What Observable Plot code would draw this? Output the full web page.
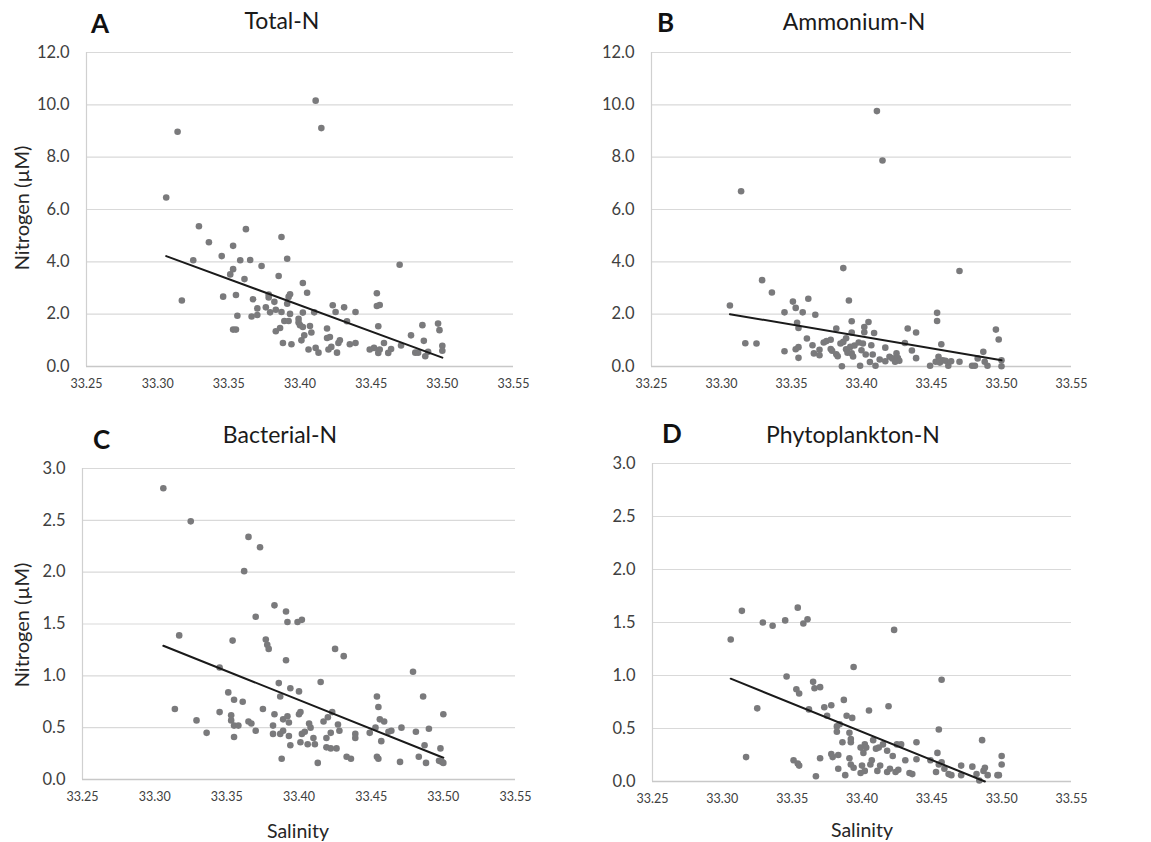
<!DOCTYPE html>
<html>
<head>
<meta charset="utf-8">
<script src="https://cdn.jsdelivr.net/npm/d3@7"></script>
<script src="https://cdn.jsdelivr.net/npm/@observablehq/plot@0.6"></script>
<style>
  html, body { margin: 0; padding: 0; background: #fff; }
  #root { position: relative; width: 1151px; height: 842px; overflow: hidden; background: #fff; font-family: Lato, "Open Sans", sans-serif; }
  .panel { position: absolute; }
  #overlay { position: absolute; left: 0; top: 0; pointer-events: none; }
</style>
</head>
<body>
<div id="root"></div>
<script>
// ---------------- data ----------------
const xTicks = [33.25, 33.30, 33.35, 33.40, 33.45, 33.50, 33.55];
const yTicksTop = [0, 2, 4, 6, 8, 10, 12];
const yTicksBottom = [0, 0.5, 1.0, 1.5, 2.0, 2.5, 3.0];
const panelLetters = ["A", "B", "C", "D"];
const panelTitles = ["Total-N", "Ammonium-N", "Bacterial-N", "Phytoplankton-N"];
const yAxisLabel = "Nitrogen (µM)";
const xAxisLabel = "Salinity";

const salinityA = [33.306,33.314,33.317,33.325,33.329,33.336,33.345,33.346,33.351,33.353,33.353,33.355,33.353,33.355,33.356,33.358,33.361,33.362,33.365,33.366,33.367,33.370,33.370,33.373,33.376,33.378,33.378,33.379,33.382,33.383,33.383,33.385,33.386,33.387,33.387,33.388,33.389,33.391,33.391,33.392,33.392,33.393,33.393,33.394,33.399,33.399,33.400,33.401,33.402,33.402,33.402,33.403,33.405,33.406,33.407,33.408,33.410,33.411,33.411,33.413,33.415,33.419,33.419,33.420,33.421,33.422,33.423,33.425,33.426,33.427,33.428,33.431,33.433,33.435,33.439,33.439,33.449,33.452,33.454,33.454,33.455,33.455,33.456,33.456,33.459,33.462,33.464,33.470,33.471,33.478,33.481,33.483,33.486,33.487,33.488,33.490,33.497,33.498,33.500,33.500];
const totalN = [6.46,8.97,2.52,4.06,5.36,4.75,4.22,2.67,3.52,3.72,4.61,2.73,1.41,1.41,1.94,4.06,3.34,5.25,4.07,1.91,2.57,2.22,1.97,3.84,2.26,2.64,2.75,2.07,2.47,1.35,2.17,3.46,1.47,2.08,4.95,0.90,1.74,4.12,2.40,1.74,2.66,2.01,2.76,0.85,1.82,1.68,1.58,1.00,1.51,3.19,2.06,1.19,2.82,0.65,1.55,1.30,2.07,10.16,0.71,0.53,9.11,1.45,1.09,0.65,1.13,0.75,2.34,2.08,0.53,0.90,1.00,2.26,1.73,0.85,0.90,2.08,0.65,0.71,2.80,2.31,1.54,0.52,0.65,2.35,0.90,0.52,0.67,3.89,0.80,1.19,0.53,0.53,1.58,0.98,0.39,0.56,1.64,1.39,0.79,0.60];

const salinityB = [33.306,33.314,33.317,33.325,33.329,33.336,33.345,33.345,33.351,33.353,33.353,33.354,33.355,33.355,33.355,33.358,33.361,33.362,33.365,33.366,33.367,33.370,33.370,33.373,33.375,33.378,33.378,33.379,33.382,33.382,33.383,33.385,33.386,33.387,33.387,33.389,33.389,33.390,33.391,33.392,33.393,33.393,33.393,33.394,33.395,33.398,33.399,33.400,33.401,33.402,33.402,33.403,33.405,33.406,33.407,33.408,33.409,33.410,33.413,33.417,33.417,33.420,33.422,33.424,33.425,33.426,33.427,33.431,33.433,33.436,33.439,33.439,33.449,33.453,33.454,33.454,33.455,33.456,33.457,33.458,33.460,33.462,33.464,33.470,33.470,33.479,33.481,33.483,33.487,33.488,33.490,33.496,33.498,33.500,33.500,33.411,33.415];
const ammoniumN = [2.33,6.70,0.89,0.88,3.30,2.83,2.07,0.58,2.48,0.66,2.24,1.67,1.47,0.74,0.33,2.07,1.07,2.59,0.81,0.50,1.98,0.64,0.43,0.92,0.97,1.02,0.67,0.60,1.45,0.47,0.39,0.88,0.01,3.76,0.94,0.66,1.08,0.53,2.52,0.75,1.73,1.30,0.50,0.38,0.80,0.92,0.03,0.62,0.88,1.31,1.51,0.46,1.70,0.17,0.81,0.46,1.28,0.03,0.27,0.72,0.20,0.37,0.31,0.18,0.50,0.32,0.22,0.90,1.45,0.61,1.30,0.32,0.03,0.18,2.05,1.74,0.37,0.15,0.85,0.24,0.22,0.03,0.20,3.65,0.18,0.03,0.03,0.31,0.56,0.18,0.03,1.41,1.03,0.24,0.01,9.76,7.87];

const salinityC = [33.306,33.314,33.317,33.325,33.329,33.336,33.345,33.345,33.351,33.353,33.353,33.354,33.355,33.355,33.355,33.358,33.361,33.362,33.365,33.365,33.367,33.370,33.370,33.373,33.375,33.377,33.378,33.379,33.382,33.382,33.383,33.383,33.386,33.387,33.387,33.388,33.389,33.389,33.391,33.391,33.392,33.392,33.393,33.393,33.394,33.394,33.399,33.400,33.400,33.401,33.401,33.402,33.402,33.404,33.406,33.407,33.408,33.410,33.411,33.413,33.415,33.417,33.419,33.419,33.420,33.422,33.422,33.423,33.425,33.426,33.427,33.428,33.431,33.433,33.436,33.439,33.439,33.449,33.453,33.454,33.455,33.454,33.455,33.456,33.457,33.459,33.462,33.464,33.471,33.470,33.479,33.481,33.483,33.486,33.487,33.488,33.490,33.497,33.498,33.499,33.500,33.500];
const bacterialN = [2.81,0.68,1.39,2.49,0.57,0.45,0.65,1.08,0.84,0.62,0.57,1.34,0.41,0.52,0.77,0.52,0.75,2.01,2.34,0.56,0.54,1.57,0.47,2.24,0.68,1.35,1.30,1.26,0.52,0.44,1.68,0.63,0.93,0.80,0.44,0.20,0.58,0.47,1.15,1.62,1.52,0.61,0.55,0.42,0.88,0.33,1.52,0.63,0.85,0.65,0.36,1.54,0.44,0.46,0.34,0.54,0.50,0.40,0.34,0.16,0.94,0.56,0.40,0.31,0.60,0.45,0.30,0.65,1.26,0.30,0.53,0.47,1.19,0.22,0.20,0.44,0.40,0.45,0.50,0.80,0.70,0.22,0.20,0.58,0.37,0.56,0.46,0.47,0.50,0.17,1.04,0.46,0.22,0.80,0.33,0.16,0.49,0.18,0.30,0.17,0.63,0.16];

const salinityD = [33.306,33.314,33.317,33.325,33.329,33.336,33.345,33.346,33.351,33.353,33.354,33.354,33.355,33.355,33.358,33.361,33.362,33.365,33.366,33.367,33.370,33.370,33.373,33.375,33.378,33.378,33.379,33.382,33.382,33.383,33.383,33.384,33.386,33.387,33.388,33.389,33.391,33.391,33.392,33.392,33.392,33.393,33.394,33.394,33.399,33.399,33.400,33.401,33.402,33.402,33.403,33.405,33.406,33.407,33.408,33.410,33.411,33.412,33.413,33.415,33.418,33.418,33.419,33.420,33.422,33.423,33.424,33.425,33.426,33.428,33.431,33.434,33.436,33.439,33.439,33.449,33.453,33.454,33.455,33.455,33.457,33.457,33.459,33.462,33.464,33.471,33.471,33.479,33.482,33.484,33.486,33.487,33.488,33.490,33.497,33.498,33.500,33.500];
const phytoplanktonN = [1.34,1.61,0.23,0.69,1.50,1.47,1.52,0.99,0.20,0.87,1.64,0.17,0.83,0.15,1.49,1.53,0.68,0.94,0.88,0.05,0.89,0.22,0.70,0.62,0.72,0.26,0.23,0.47,0.52,0.12,0.25,0.54,0.37,0.77,0.06,0.62,0.46,0.22,0.40,0.37,0.16,0.60,0.13,1.08,0.32,0.08,0.15,0.27,0.35,0.10,0.32,0.67,0.16,0.20,0.39,0.31,0.10,0.32,0.15,0.35,0.29,0.09,0.71,0.12,0.24,1.43,0.09,0.35,0.11,0.35,0.20,0.08,0.07,0.37,0.21,0.20,0.09,0.27,0.16,0.49,0.18,0.96,0.12,0.07,0.06,0.06,0.15,0.14,0.07,0.01,0.39,0.10,0.13,0.06,0.06,0.06,0.24,0.16];

// trend line end points (salinity, nitrogen)
const trendSalA = [33.306, 33.500], trendNA = [4.22, 0.34];
const trendSalB = [33.306, 33.500], trendNB = [2.00, 0.24];
const trendSalC = [33.306, 33.500], trendNC = [1.29, 0.21];
const trendSalD = [33.306, 33.488], trendND = [0.97, 0.00];

// ---------------- drawing ----------------
const root = document.getElementById("root");
const FONT = "Lato, 'Open Sans', sans-serif";

function panel(sal, nit, tSal, tN, yMax, yTicks, box) {
  const pts = sal.map((s, i) => ({s, n: nit[i]}));
  const trend = tSal.map((s, i) => ({s, n: tN[i]}));
  const chart = Plot.plot({
    width: box.w, height: box.h,
    marginLeft: box.ml, marginRight: box.mr, marginTop: box.mt, marginBottom: box.mb,
    style: {fontFamily: FONT, background: "transparent", color: "#404040", overflow: "visible"},
    x: {domain: [33.25, 33.55], ticks: xTicks},
    y: {domain: [0, yMax], ticks: yTicks},
    marks: [
      Plot.gridY(yTicks, {stroke: "#d9d9d9", strokeOpacity: 1, strokeWidth: 1.2}),
      Plot.ruleX([33.25], {stroke: "#d0d0d0", strokeWidth: 1.2}),
      Plot.ruleY([0], {stroke: "#c8c8c8", strokeWidth: 1.4}),
      Plot.axisY(yTicks, {tickSize: 0, tickPadding: 17, fontSize: 16.5, tickFormat: d => d.toFixed(1), label: null, fill: "#404040"}),
      Plot.axisX(xTicks, {tickSize: 0, tickPadding: 13, fontSize: 12.5, tickFormat: d => d.toFixed(2), label: null, fill: "#404040"}),
      Plot.dot(pts, {x: "s", y: "n", r: 3.3, fill: "#7a7a7c", stroke: "none"}),
      Plot.line(trend, {x: "s", y: "n", stroke: "#1a1a1a", strokeWidth: 2})
    ]
  });
  chart.classList.add("panel");
  chart.style.left = box.x + "px";
  chart.style.top = box.y + "px";
  root.appendChild(chart);
}

panel(salinityA, totalN, trendSalA, trendNA, 12, yTicksTop,
  {x: 0, y: 0, w: 575, h: 400, ml: 86, mr: 62, mt: 52, mb: 34});
panel(salinityB, ammoniumN, trendSalB, trendNB, 12, yTicksTop,
  {x: 575, y: 0, w: 576, h: 400, ml: 76, mr: 80, mt: 52, mb: 34});
panel(salinityC, bacterialN, trendSalC, trendNC, 3, yTicksBottom,
  {x: 0, y: 410, w: 575, h: 432, ml: 82, mr: 60, mt: 58, mb: 63});
panel(salinityD, phytoplanktonN, trendSalD, trendND, 3, yTicksBottom,
  {x: 575, y: 410, w: 576, h: 432, ml: 77, mr: 80, mt: 53, mb: 61});

// text overlay
const svg = d3.select(root).append("svg")
  .attr("id", "overlay").attr("width", 1151).attr("height", 842)
  .style("font-family", FONT);

const titlePos = [[282, 29], [854, 30], [280, 443], [853, 443]];
const letterPos = [[91, 33], [657, 32], [93, 449], [662, 443]];
panelTitles.forEach((t, i) => {
  svg.append("text").attr("x", titlePos[i][0]).attr("y", titlePos[i][1])
    .attr("text-anchor", "middle").attr("font-size", 23).attr("fill", "#1a1a1a").text(t);
  svg.append("text").attr("x", letterPos[i][0]).attr("y", letterPos[i][1])
    .attr("font-size", 26).attr("font-weight", 700).attr("fill", "#111").text(panelLetters[i]);
});
[[22, 208], [22, 625]].forEach(([cx, cy]) => {
  svg.append("text").attr("transform", `translate(${cx},${cy}) rotate(-90)`)
    .attr("text-anchor", "middle").attr("dy", "0.35em").attr("font-size", 20)
    .attr("fill", "#262626").text(yAxisLabel);
});
[[298, 838], [862, 837]].forEach(([cx, by]) => {
  svg.append("text").attr("x", cx).attr("y", by).attr("text-anchor", "middle")
    .attr("font-size", 19.5).attr("fill", "#262626").text(xAxisLabel);
});
</script>
</body>
</html>
